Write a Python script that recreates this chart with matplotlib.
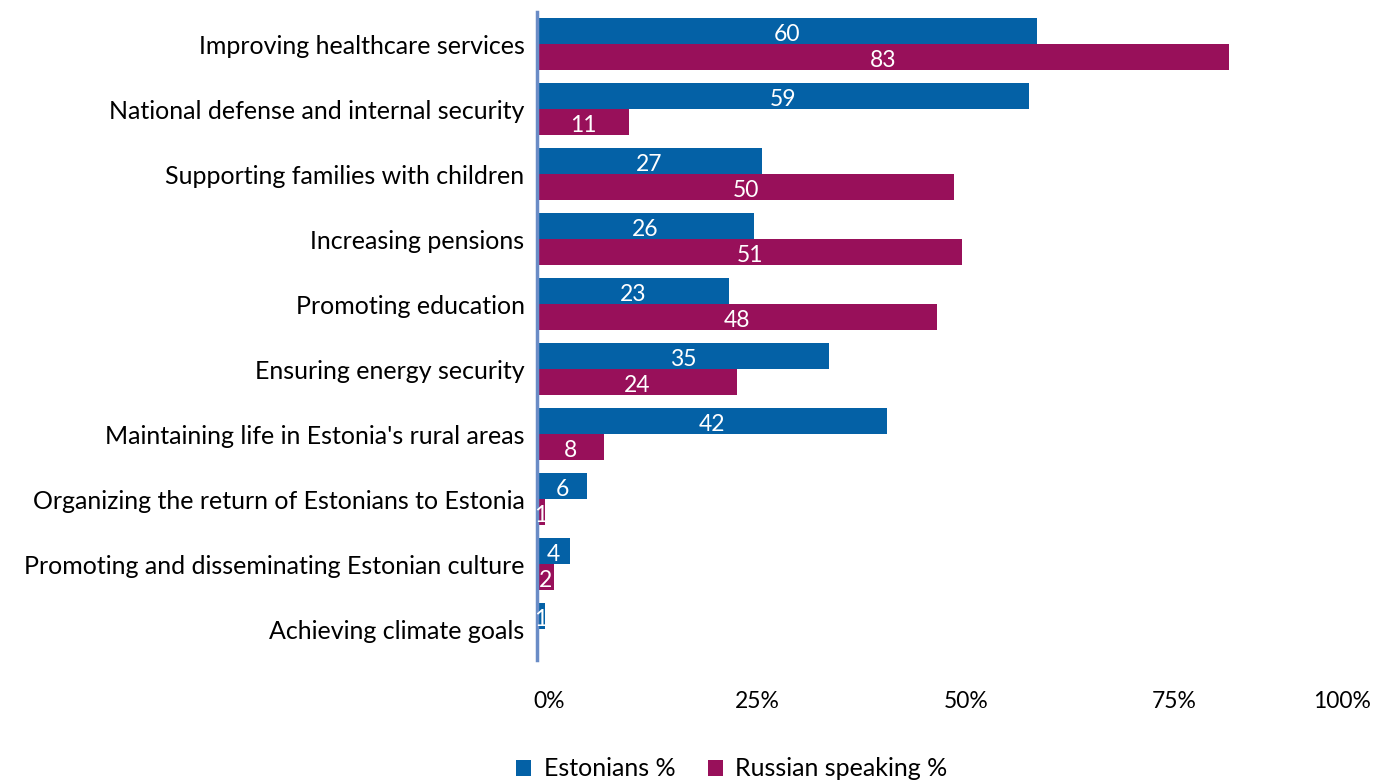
import matplotlib
matplotlib.use("Agg")
import matplotlib.pyplot as plt
import matplotlib.transforms as mtransforms
import numpy as np

categories = [
    "Improving healthcare services",
    "National defense and internal security",
    "Supporting families with children",
    "Increasing pensions",
    "Promoting education",
    "Ensuring energy security",
    "Maintaining life in Estonia's rural areas",
    "Organizing the return of Estonians to Estonia",
    "Promoting and disseminating Estonian culture",
    "Achieving climate goals",
]
estonians = [60, 59, 27, 26, 23, 35, 42, 6, 4, 1]
russian_speaking = [83, 11, 50, 51, 48, 24, 8, 1, 2, None]
series_names = ["Estonians %", "Russian speaking %"]
x_ticks = [0, 25, 50, 75, 100]
x_tick_labels = ["0%", "25%", "50%", "75%", "100%"]

BLUE = "#0461a6"
MAGENTA = "#98105a"
AXIS = "#6a8cc6"

plt.rcParams["font.family"] = ["Lato", "DejaVu Sans"]

fig = plt.figure(figsize=(13.85, 7.81), dpi=100)
ax = fig.add_axes([537 / 1385, 1 - 660 / 781, (1371 - 537) / 1385, (660 - 12) / 781])

y = np.arange(len(categories))
h = 0.4

est_vals = np.array(estonians, dtype=float)
rus_vals = np.array([np.nan if v is None else v for v in russian_speaking], dtype=float)

b1 = ax.barh(y - h / 2, est_vals, height=h, color=BLUE, label=series_names[0])
b2 = ax.barh(y + h / 2, np.nan_to_num(rus_vals), height=h, color=MAGENTA, label=series_names[1])

for yi, v in zip(y, est_vals):
    ax.text(v / 2, yi - h / 2 + 0.04, f"{v:.0f}", ha="center", va="center",
            color="white", fontsize=16.5)
for yi, v in zip(y, rus_vals):
    if not np.isnan(v):
        ax.text(v / 2, yi + h / 2 + 0.04, f"{v:.0f}", ha="center", va="center",
                color="white", fontsize=16.5)

ax.set_xlim(0, 100)
ax.set_ylim(9.47, -0.5)
ax.set_yticks(y)
ax.set_yticklabels(categories, fontsize=18)
ax.set_xticks(x_ticks)
ax.set_xticklabels(x_tick_labels, fontsize=16.5)
ax.tick_params(axis="y", length=0, pad=9)
ax.tick_params(axis="x", length=0, pad=22)

# nudge the percentage labels slightly to the right; keep the last inside the figure
for i, lbl in enumerate(ax.get_xticklabels()):
    if i == len(x_tick_labels) - 1:
        lbl.set_horizontalalignment("right")
    else:
        lbl.set_transform(lbl.get_transform() +
                          mtransforms.ScaledTranslation(12 / 100, 0, fig.dpi_scale_trans))

for side in ["top", "right", "bottom"]:
    ax.spines[side].set_visible(False)
ax.spines["left"].set_color(AXIS)
ax.spines["left"].set_linewidth(2.5)

fig.legend(handles=[b1, b2], labels=series_names, loc="center",
           bbox_to_anchor=(732 / 1385, 1 - 769 / 781), ncol=2, frameon=False,
           fontsize=18, handlelength=0.6, handleheight=0.6, handletextpad=0.5,
           columnspacing=1.3)

fig.savefig("out.png", dpi=100)
